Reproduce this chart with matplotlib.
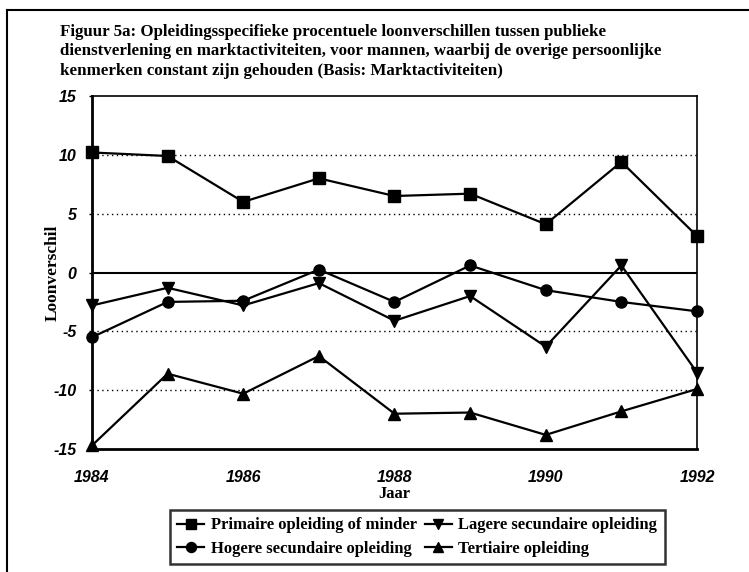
import matplotlib
matplotlib.use("Agg")
import matplotlib.pyplot as plt
from matplotlib.lines import Line2D

plt.rcParams["axes.unicode_minus"] = False

jaren = [1984, 1985, 1986, 1987, 1988, 1989, 1990, 1991, 1992]
primaire = [10.2, 9.9, 6.0, 8.0, 6.5, 6.7, 4.1, 9.4, 3.1]
lagere = [-2.8, -1.3, -2.8, -0.9, -4.1, -2.0, -6.3, 0.6, -8.5]
hogere = [-5.5, -2.5, -2.4, 0.25, -2.5, 0.6, -1.5, -2.5, -3.3]
tertiaire = [-14.7, -8.6, -10.3, -7.1, -12.0, -11.9, -13.8, -11.8, -9.9]

namen = ["Primaire opleiding of minder", "Lagere secundaire opleiding",
         "Hogere secundaire opleiding", "Tertiaire opleiding"]
yticks = [-15, -10, -5, 0, 5, 10, 15]
xticks = [1984, 1986, 1988, 1990, 1992]

titel = ("Figuur 5a: Opleidingsspecifieke procentuele loonverschillen tussen publieke\n"
         "dienstverlening en marktactiviteiten, voor mannen, waarbij de overige persoonlijke\n"
         "kenmerken constant zijn gehouden (Basis: Marktactiviteiten)")

serif = "Liberation Serif"
sans = "Liberation Sans"

fig = plt.figure(figsize=(7.49, 5.72), dpi=100)
ax = fig.add_axes([0.1228, 0.215, 0.8078, 0.6172])

# frame lines of the scanned page
fig.add_artist(Line2D([0.010, 0.010], [0.0, 0.983], color="black", lw=1.5))
fig.add_artist(Line2D([0.010, 1.0], [0.983, 0.983], color="black", lw=1.5))

for g in [-10, -5, 5, 10]:
    ax.axhline(g, color="black", lw=1.0, ls=(0, (1, 2.5)), zorder=1)
ax.axhline(0, color="black", lw=1.5, zorder=1)

stijl = dict(color="black", lw=1.6, clip_on=False, zorder=3)
l1, = ax.plot(jaren, primaire, marker="s", ms=8, **stijl)
l2, = ax.plot(jaren, lagere, marker="v", ms=8, **stijl)
l3, = ax.plot(jaren, hogere, marker="o", ms=8, **stijl)
l4, = ax.plot(jaren, tertiaire, marker="^", ms=8, **stijl)

ax.set_xlim(1984, 1992)
ax.set_ylim(-15, 15)
ax.set_xticks(xticks)
ax.set_yticks(yticks)
ax.tick_params(axis="x", length=0, pad=15)
ax.tick_params(axis="y", length=2, width=1, pad=9)
for lab in ax.get_xticklabels() + ax.get_yticklabels():
    lab.set_fontfamily(sans)
    lab.set_fontweight("bold")
    lab.set_fontstyle("italic")
    lab.set_fontsize(11.5)

ax.spines["left"].set_linewidth(2.0)
ax.spines["bottom"].set_linewidth(2.0)
ax.spines["top"].set_linewidth(1.2)
ax.spines["right"].set_linewidth(1.2)

ax.set_ylabel("Loonverschil", fontfamily=serif, fontweight="bold", fontsize=12.5, labelpad=-5)
ax.set_xlabel("Jaar", fontfamily=serif, fontweight="bold", fontsize=12, labelpad=1)

fig.text(0.080, 0.958, titel, ha="left", va="top", fontfamily=serif,
         fontweight="bold", fontsize=12.2, linespacing=1.28)

# legend fills by column, so order for rows: Primaire | Lagere, Hogere | Tertiaire
handles = [l1, l3, l2, l4]
labels = [namen[0], namen[2], namen[1], namen[3]]
leg = fig.legend(handles, labels, ncol=2, loc="center",
                 bbox_to_anchor=(0.557, 0.061), frameon=True, fancybox=False,
                 edgecolor="black", handlelength=1.6, handletextpad=0.4,
                 columnspacing=0.5, labelspacing=0.45, borderpad=0.45,
                 markerscale=0.9,
                 prop={"family": serif, "weight": "bold", "size": 12})
leg.get_frame().set_linewidth(1.8)

fig.savefig("out.png", dpi=100)
